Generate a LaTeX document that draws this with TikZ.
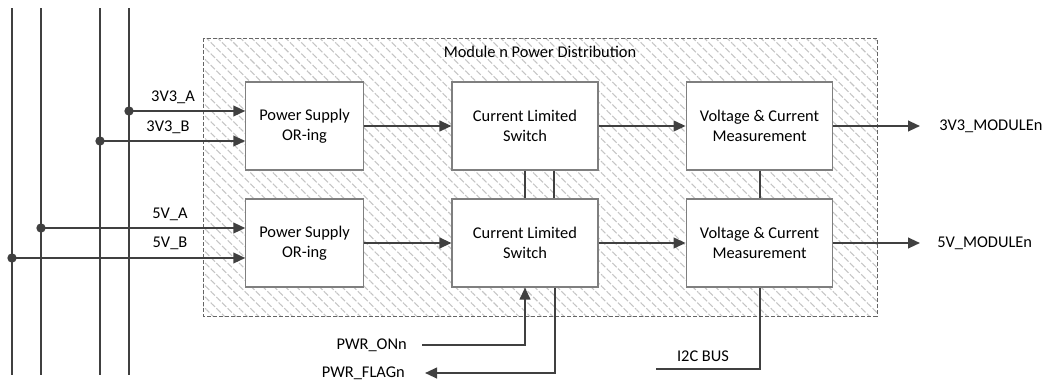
\documentclass[tikz,border=0pt]{standalone}
\usepackage{fontspec}
\setmainfont{Carlito}
\usetikzlibrary{arrows.meta,patterns.meta}
\definecolor{ln}{HTML}{404040}
\definecolor{bx}{HTML}{7F7F7F}
\definecolor{hatch}{HTML}{C4C4C4}
\tikzset{
  wire/.style={draw=ln,line width=1.5pt},
  arr/.style={wire,-{Triangle[length=9pt,width=8pt]}},
  dotnode/.style={circle,fill=ln,inner sep=0pt,minimum size=7pt},
  blk/.style={draw=bx,fill=white,line width=0.8pt,align=center,minimum height=66pt,font=\fontsize{12.3}{15}\selectfont},
  lbl/.style={inner sep=0pt,font=\fontsize{12.3}{14}\selectfont},
}
\begin{document}
\begin{tikzpicture}[x=0.75pt,y=-0.75pt]
\useasboundingbox (0,0) rectangle (1043,386);
% module area
\draw[bx!80!black,line width=0.6pt,dash pattern=on 3pt off 1.5pt,
  pattern={Lines[angle=-45,distance=6pt,line width=0.8pt]},pattern color=hatch]
  (203,38) rectangle (877,316);
\node[lbl] (title) at (540,52) {Module n Power Distribution};
% buses
\foreach \n/\x in {a/12,b/41,c/100,d/129}{
  \coordinate (bt\n) at (\x,8);
  \coordinate (bb\n) at (\x,375);
  \draw[wire] (bt\n) -- (bb\n);
}
% blocks
\node[blk,minimum width=88pt] (or1) at (304.5,126) {Power Supply\\OR-ing};
\node[blk,minimum width=109.5pt] (sw1) at (525,126) {Current Limited\\Switch};
\node[blk,minimum width=110pt] (vm1) at (759.5,126) {Voltage \& Current\\Measurement};
\node[blk,minimum width=88pt] (or2) at (304.5,243) {Power Supply\\OR-ing};
\node[blk,minimum width=109.5pt] (sw2) at (525,243) {Current Limited\\Switch};
\node[blk,minimum width=110pt] (vm2) at (759.5,243) {Voltage \& Current\\Measurement};
% dots
\node[dotnode] (d1) at (129,111) {};
\node[dotnode] (d2) at (100,141) {};
\node[dotnode] (d3) at (41,228) {};
\node[dotnode] (d4) at (12,258) {};
\draw[arr] (d1.center) -- (d1.center -| or1.west);
\draw[arr] (d2.center) -- (d2.center -| or1.west);
\draw[arr] (d3.center) -- (d3.center -| or2.west);
\draw[arr] (d4.center) -- (d4.center -| or2.west);
\node[lbl] (l1) at (173,97) {3V3\_A};
\node[lbl] (l2) at (168,127) {3V3\_B};
\node[lbl] (l3) at (170,214) {5V\_A};
\node[lbl] (l4) at (170,243) {5V\_B};
% chain
\draw[arr] (or1) -- (sw1);
\draw[arr] (sw1) -- (vm1);
\draw[arr] (or2) -- (sw2);
\draw[arr] (sw2) -- (vm2);
\node[lbl,anchor=west] (o1) at (939,126) {3V3\_MODULEn};
\node[lbl,anchor=west] (o2) at (937,243) {5V\_MODULEn};
\coordinate (o1e) at (920,126);
\coordinate (o2e) at (920,243);
\draw[arr] (vm1) -- (o1e);
\draw[arr] (vm2) -- (o2e);
% vertical links
\draw[wire] (sw1.south) -- (sw2.north);
\draw[wire] ([xshift=22pt]sw1.south) -- ([xshift=22pt]sw2.north);
\draw[wire] (vm1.south) -- (vm2.north);
% control
\node[lbl,anchor=east] (pon) at (407,345) {PWR\_ONn};
\node[lbl,anchor=east] (pfl) at (405,373) {PWR\_FLAGn};
\coordinate (ponS) at (422,345);
\coordinate (pflE) at (425,373);
\draw[arr] (ponS) -| (sw2.south);
\draw[arr] ([xshift=22.5pt]sw2.south) |- (pflE);
\node[lbl] (i2c) at (703,356) {I2C BUS};
\coordinate (i2cS) at (656,369);
\draw[wire] (i2cS) -| (vm2.south);
\end{tikzpicture}
\end{document}
